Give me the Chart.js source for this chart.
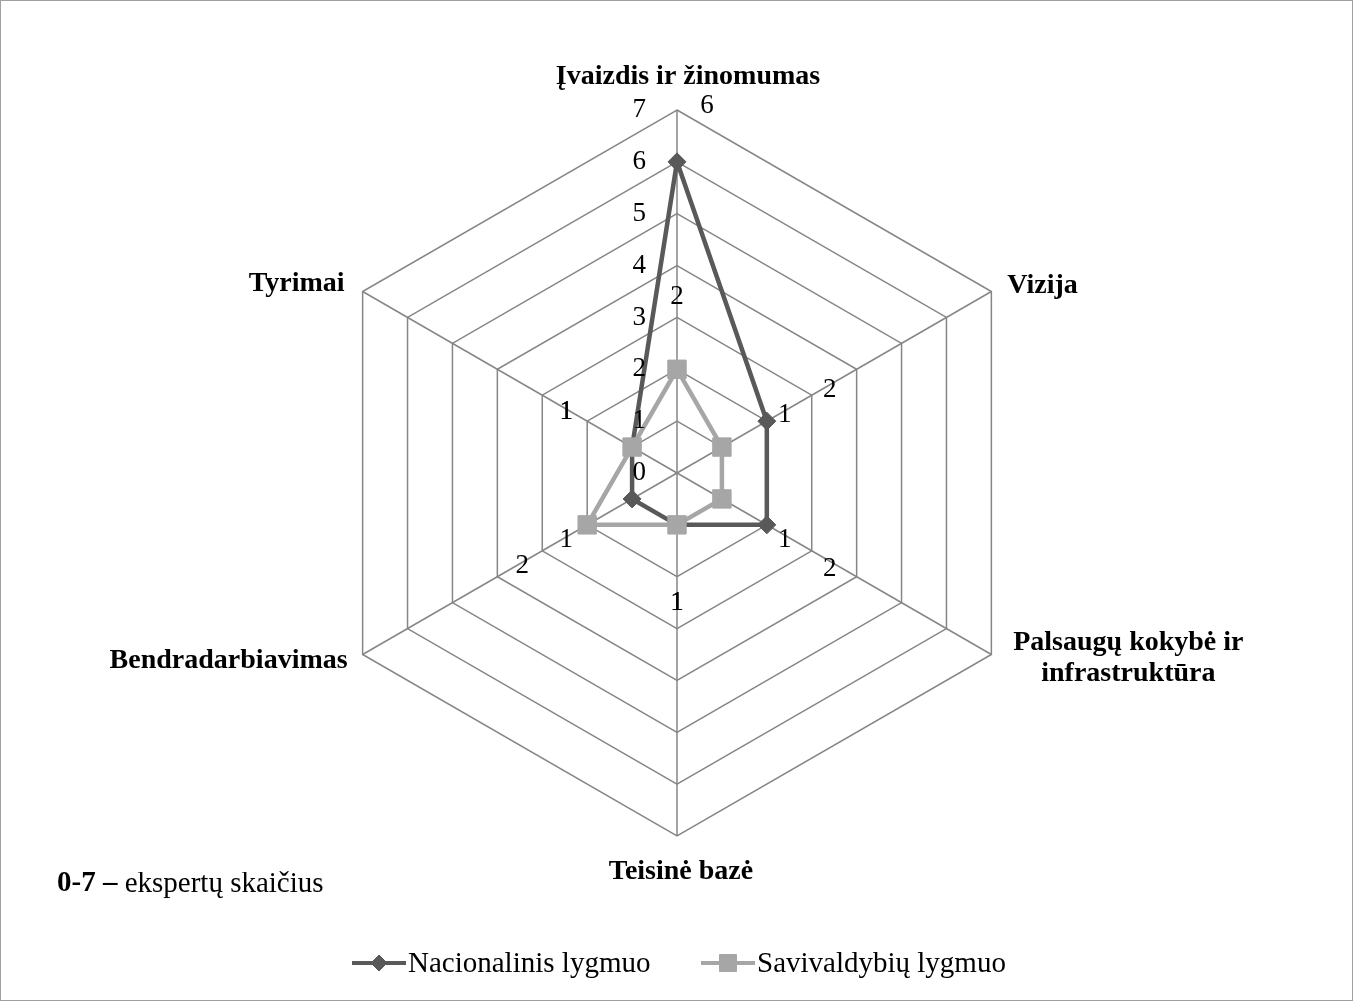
<!DOCTYPE html>
<html>
<head>
<meta charset="utf-8">
<title>Ekspertų vertinimas</title>
<script src="https://cdn.jsdelivr.net/npm/chart.js@4.4.0/dist/chart.umd.min.js"></script>
<style>
  body { margin: 0; background: #fff; }
  canvas { display: block; }
</style>
</head>
<body>
<canvas id="radarChart" width="1353" height="1001"></canvas>
<script>
// ---------- DATA ----------
const categories = [
    'Įvaizdis ir žinomumas',
    'Vizija',
    ['Palsaugų kokybė ir', 'infrastruktūra'],
    'Teisinė bazė',
    'Bendradarbiavimas',
    'Tyrimai'
];
const nacionalinis = [6, 2, 2, 1, 1, 1];
const savivaldybiu = [2, 1, 1, 1, 2, 1];
const seriesNames = ['Nacionalinis lygmuo', 'Savivaldybių lygmuo'];
const tickValues = [0, 1, 2, 3, 4, 5, 6, 7];
const footnoteBold = '0-7 –';
const footnoteText = ' ekspertų skaičius';

// ---------- STYLE ----------
const SERIF = '"Liberation Serif", "Times New Roman", serif';
const DARK = '#595959';
const LIGHT = '#a6a6a6';
const GRID = '#868686';

// where each axis title sits relative to the outer vertex: [dx, dy, align]
const titleSpots = [[11, -33, 'center'], [16, -6, 'left'], [137, -12, 'center'],
                    [4, 36, 'center'], [-15, 6, 'right'], [-18, -8, 'right']];
// the data labels are shifted off their points (as in the original): [value along axis, dx, dy]
const natLabelSpots = [[7, 30, -4], [3, 18, -5], [3, 18, 18], [2.5, 0, 0], [2, -21, 15], [2, -21, -9]];
const savLabelSpots = [[3.4, 0, 0], [2, 18, -6], [2, 18, 15], [2.5, 0, 0], [3, -20, 15], [2, -21, -9]];

function put(ctx, text, x, y, font, align) {
    ctx.font = font;
    ctx.textAlign = align;
    ctx.textBaseline = 'middle';
    ctx.fillStyle = '#000';
    ctx.fillText(text, x, y);
}

// Draws titles, tick labels, data labels, legend and note
const textPlugin = {
    id: 'textPlugin',
    afterDraw(chart) {
        const ctx = chart.ctx;
        const r = chart.scales.r;
        ctx.save();

        // frame
        ctx.strokeStyle = '#a0a0a0';
        ctx.lineWidth = 1;
        ctx.strokeRect(0.5, 0.5, chart.width - 1, chart.height - 1);

        // axis titles
        categories.forEach((cat, i) => {
            const p = r.getPointPosition(i, r.getDistanceFromCenterForValue(r.max));
            const [dx, dy, align] = titleSpots[i];
            const lines = Array.isArray(cat) ? cat : [cat];
            lines.forEach((line, k) => {
                put(ctx, line, p.x + dx, p.y + dy + k * 31, 'bold 28px ' + SERIF, align);
            });
        });

        // tick labels along the first axis
        tickValues.forEach(v => {
            const y = r.yCenter - r.getDistanceFromCenterForValue(v);
            put(ctx, String(v), r.xCenter - 31, y, '27px ' + SERIF, 'right');
        });

        // data labels
        [[nacionalinis, natLabelSpots], [savivaldybiu, savLabelSpots]].forEach(([vals, spots]) => {
            vals.forEach((v, i) => {
                const [at, dx, dy] = spots[i];
                const p = r.getPointPosition(i, r.getDistanceFromCenterForValue(at));
                put(ctx, String(v), p.x + dx, p.y + dy, '27px ' + SERIF, 'center');
            });
        });

        // note
        put(ctx, footnoteBold, 57, 884, 'bold 29px ' + SERIF, 'left');
        const w = ctx.measureText(footnoteBold).width;
        put(ctx, footnoteText, 57 + w, 884, '29px ' + SERIF, 'left');

        // legend
        const legendItems = [
            { x: 352, color: DARK, style: 'rectRot', radius: 8 },
            { x: 701, color: LIGHT, style: 'rect', radius: 12 }
        ];
        legendItems.forEach((it, i) => {
            ctx.strokeStyle = it.color;
            ctx.fillStyle = it.color;
            ctx.lineWidth = 4;
            ctx.beginPath();
            ctx.moveTo(it.x, 963);
            ctx.lineTo(it.x + 54, 963);
            ctx.stroke();
            ctx.lineWidth = 1;
            Chart.helpers.drawPoint(ctx, { pointStyle: it.style, radius: it.radius, borderWidth: 1, rotation: 0 }, it.x + 27, 963);
            put(ctx, seriesNames[i], it.x + 56, 964, '29px ' + SERIF, 'left');
        });

        ctx.restore();
    }
};

const chartCtx = document.getElementById('radarChart').getContext('2d');

window.radarChart = new Chart(chartCtx, {
    type: 'radar',
    data: {
        labels: categories,
        datasets: [{
            label: seriesNames[0],
            data: nacionalinis,
            borderColor: DARK,
            backgroundColor: DARK,
            pointBackgroundColor: DARK,
            pointBorderColor: DARK,
            borderWidth: 4.5,
            pointStyle: 'rectRot',
            pointRadius: 9,
            pointBorderWidth: 1,
            fill: false,
            order: 1
        }, {
            label: seriesNames[1],
            data: savivaldybiu,
            borderColor: LIGHT,
            backgroundColor: LIGHT,
            pointBackgroundColor: LIGHT,
            pointBorderColor: LIGHT,
            borderWidth: 4.5,
            pointStyle: 'rect',
            pointRadius: 13,
            pointBorderWidth: 1,
            fill: false,
            order: 0
        }]
    },
    options: {
        responsive: false,
        animation: false,
        devicePixelRatio: 1,
        layout: { padding: { left: 314, right: 313, top: 110, bottom: 165 } },
        elements: { line: { tension: 0 } },
        scales: {
            r: {
                min: 0,
                max: 7,
                ticks: { stepSize: 1, display: false },
                pointLabels: { display: false },
                grid: { color: GRID, lineWidth: 1.5 },
                angleLines: { color: GRID, lineWidth: 1.5 }
            }
        },
        plugins: {
            legend: { display: false },
            tooltip: { enabled: false }
        }
    },
    plugins: [textPlugin]
});
</script>
</body>
</html>
